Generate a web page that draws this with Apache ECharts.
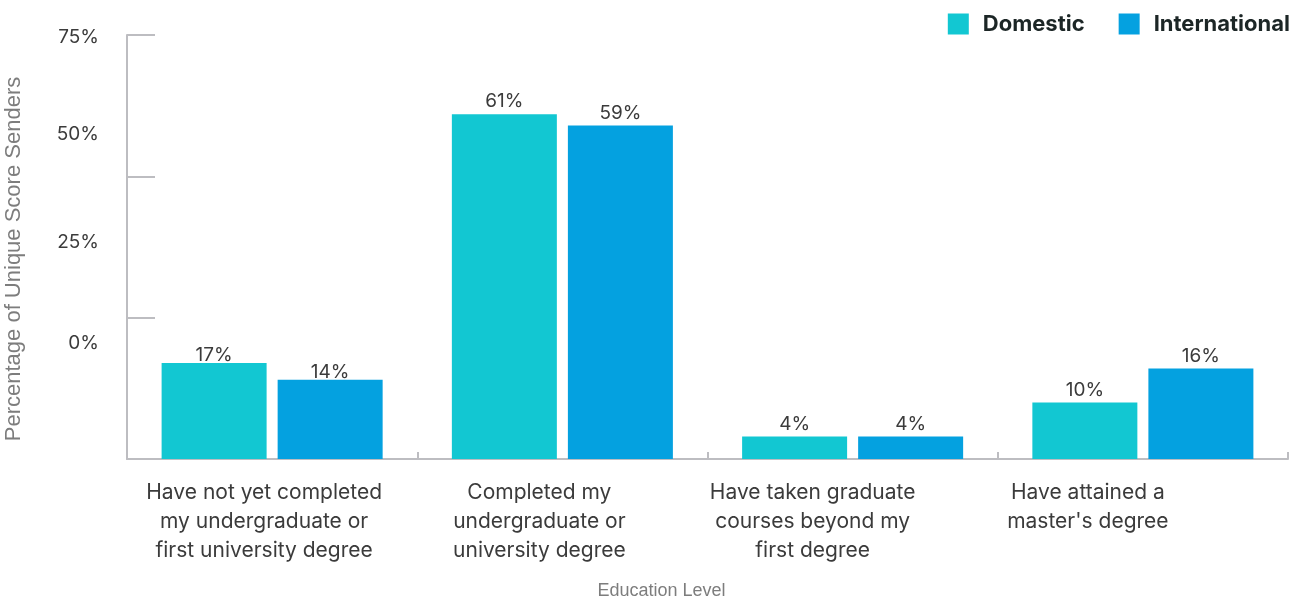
<!DOCTYPE html>
<html>
<head>
<meta charset="utf-8">
<script src="https://cdn.jsdelivr.net/npm/echarts@6/dist/echarts.min.js"></script>
<style>
  html, body { margin: 0; padding: 0; background: #ffffff; }
  #chart { width: 1298px; height: 599px; }
</style>
</head>
<body>
<div id="chart"></div>
<script>
// Education level of score senders, domestic vs international
const categories = [
  "Have not yet completed\nmy undergraduate or\nfirst university degree",
  "Completed my\nundergraduate or\nuniversity degree",
  "Have taken graduate\ncourses beyond my\nfirst degree",
  "Have attained a\nmaster's degree"
];
const domestic = [17, 61, 4, 10];
const international = [14, 59, 4, 16];
const yTicks = [0, 25, 50, 75];

// vertical nudges for the y-axis tick labels (px, positive = up)
const yLabelShift = { 0: 116, 25: 75, 50: 42, 75: -2 };
// horizontal nudges for the category labels (px, positive = left)
const xLabelShift = [8, 23, 40, 55];

const FONT = "Inter, 'Open Sans', sans-serif";
const NAME_FONT = "'Liberation Sans', Arial, sans-serif";
const AXIS_COLOR = "#bdbdc1";
const TEXT_COLOR = "#3b3b3b";

const yRich = {};
yTicks.forEach(v => {
  const s = yLabelShift[v];
  yRich['t' + v] = {
    fontFamily: FONT, fontSize: 19, color: TEXT_COLOR,
    padding: s >= 0 ? [0, 0, 2 * s, 0] : [-2 * s, 0, 0, 0]
  };
});

const xRich = {};
xLabelShift.forEach((s, i) => {
  xRich['c' + i] = {
    fontFamily: FONT, fontSize: 21, color: TEXT_COLOR, lineHeight: 29,
    padding: [0, 2 * s, 0, 0]
  };
});

const chart = echarts.init(document.getElementById('chart'), null, { renderer: 'canvas' });

const barLabel = { show: true, position: 'top', distance: 3, formatter: '{c}%', fontFamily: FONT, fontSize: 19, color: TEXT_COLOR };

// first category sits its value labels tight against the bar top
function barData(values) {
  return values.map((v, i) => i === 0 ? { value: v, label: { distance: -2 } } : v);
}

chart.setOption({
  animation: false,
  textStyle: { fontFamily: FONT },
  legend: {
    top: 8,
    right: 3,
    itemWidth: 21,
    itemHeight: 21,
    itemGap: 34,
    icon: 'rect',
    textStyle: { fontFamily: FONT, fontSize: 22, fontWeight: 'bold', color: '#1c2626', padding: [0, 0, 0, 9] },
    data: ['Domestic', 'International']
  },
  grid: { left: 127, right: 10, top: 35, bottom: 140, containLabel: false, outerBoundsMode: 'none' },
  xAxis: {
    type: 'category',
    data: categories,
    name: 'Education Level',
    nameLocation: 'middle',
    nameGap: 123,
    nameTextStyle: { fontFamily: NAME_FONT, fontSize: 18, color: '#7d7d7d', padding: [0, 92, 0, 0] },
    axisLine: { show: true, lineStyle: { color: AXIS_COLOR, width: 2 } },
    axisTick: { show: true, inside: true, length: 7, lineStyle: { color: AXIS_COLOR, width: 2 } },
    axisLabel: {
      margin: 19, fontFamily: FONT, fontSize: 21, color: TEXT_COLOR, lineHeight: 29, interval: 0,
      formatter: (value, idx) => value.split('\n').map(line => '{c' + idx + '|' + line + '}').join('\n'),
      rich: xRich
    },
    splitLine: { show: false }
  },
  yAxis: {
    type: 'value',
    min: 0,
    max: 75,
    interval: 25,
    name: 'Percentage of Unique Score Senders',
    nameLocation: 'middle',
    nameGap: 102,
    nameRotate: 90,
    nameTextStyle: { fontFamily: NAME_FONT, fontSize: 22, color: '#7d7d7d', padding: [0, 24, 0, 0] },
    axisLine: { show: true, lineStyle: { color: AXIS_COLOR, width: 2 } },
    axisTick: { show: true, inside: true, length: 28, lineStyle: { color: AXIS_COLOR, width: 2 } },
    splitLine: { show: false },
    axisLabel: {
      margin: 28,
      formatter: v => '{t' + v + '|' + v + '%}',
      rich: yRich
    }
  },
  series: [
    {
      name: 'Domestic',
      type: 'bar',
      data: barData(domestic),
      barWidth: 105,
      barGap: '10.5%',
      itemStyle: { color: '#12c7d2' },
      label: barLabel
    },
    {
      name: 'International',
      type: 'bar',
      data: barData(international),
      barWidth: 105,
      itemStyle: { color: '#04a1e0' },
      label: barLabel
    }
  ]
});
</script>
</body>
</html>
